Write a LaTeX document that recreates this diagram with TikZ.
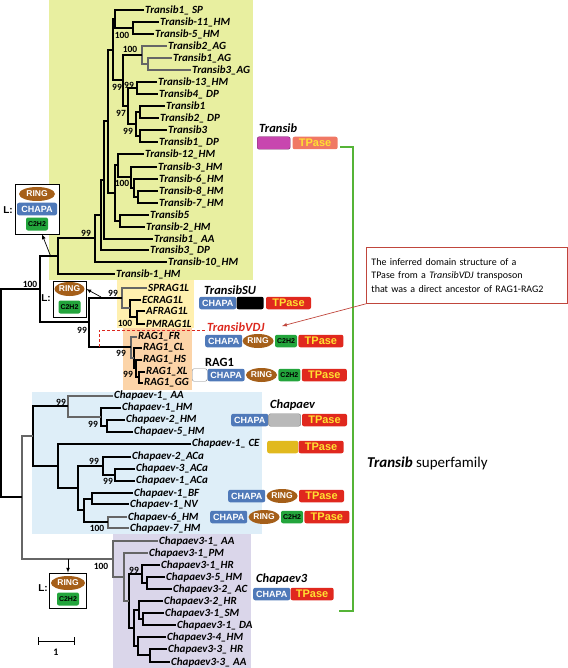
\documentclass[tikz,border=0pt]{standalone}
\usepackage{fontspec}
\setmainfont{Carlito}
\newfontfamily\arialfam{Liberation Sans}
\usetikzlibrary{positioning,shapes.geometric}

\definecolor{transibbg}{RGB}{232,239,160}
\definecolor{suzbg}{RGB}{255,240,175}
\definecolor{ragbg}{RGB}{252,212,168}
\definecolor{chapbg}{RGB}{222,238,248}
\definecolor{chapthreebg}{RGB}{218,214,234}
\definecolor{chapablue}{RGB}{79,121,185}
\definecolor{tpred}{RGB}{224,40,30}
\definecolor{tpyellow}{RGB}{255,224,50}
\definecolor{ringbrown}{RGB}{165,95,25}
\definecolor{zfgreen}{RGB}{35,165,60}
\definecolor{brgreen}{RGB}{85,180,55}
\definecolor{noteedge}{RGB}{192,70,60}
\definecolor{vdjred}{RGB}{220,40,30}
\definecolor{tsalmon}{RGB}{240,120,100}
\definecolor{tmagenta}{RGB}{200,70,175}
\definecolor{ceyellow}{RGB}{225,185,30}

\tikzset{
  leaf/.style={anchor=west, inner sep=1pt, font=\fontsize{11}{12}\selectfont\bfseries\itshape},
  bs/.style={inner sep=0pt, font=\fontsize{9.5}{9.5}\selectfont\bfseries},
  br/.style={line width=1.1pt, black},
  gbr/.style={line width=1.1pt, gray!80!black},
  dom/.style={rectangle, rounded corners=2pt, inner sep=0pt, minimum height=12.5pt, anchor=west,
    font=\arialfam\bfseries\fontsize{9}{9}\selectfont},
  chapa/.style={dom, fill=chapablue, text=white, minimum width=37pt},
  tpase/.style={dom, fill=tpred, text=tpyellow, minimum width=45pt,
    font=\arialfam\bfseries\fontsize{11}{11}\selectfont},
  ringdom/.style={ellipse, fill=ringbrown, text=white, inner sep=0pt, minimum width=31pt,
    minimum height=14pt, anchor=west, font=\arialfam\bfseries\fontsize{8.5}{8.5}\selectfont},
  zf/.style={dom, fill=zfgreen, text=black, minimum width=22pt,
    font=\arialfam\bfseries\fontsize{7}{7}\selectfont},
  famtitle/.style={anchor=west, inner sep=0pt, font=\fontsize{12.5}{12.5}\selectfont\bfseries\itshape},
  lbox/.style={draw=black, fill=white, line width=0.6pt, inner sep=0pt},
  lmark/.style={inner sep=0pt, font=\arialfam\bfseries\fontsize{10}{10}\selectfont},
  larrow/.style={-latex, line width=0.7pt},
  vdjline/.style={vdjred, line width=1pt, dash pattern=on 3pt off 2pt},
  notearrow/.style={-latex, noteedge, line width=0.7pt}
}

% one clade: vertical bar at #2 joining children #3 and #4
\newcommand{\clade}[4][br]{\draw[#1] (#3) -| (#2) |- (#4);}

\begin{document}
\begin{tikzpicture}[x=1pt,y=-1pt]
\useasboundingbox (0,0) rectangle (567,668);

% clade backgrounds
\fill[transibbg] (49,0) rectangle (253,280);
\fill[suzbg] (117,280) rectangle (194,328);
\fill[ragbg] (123,328) rectangle (192,390);
\fill[chapbg] (32,392) rectangle (262,534);
\fill[chapthreebg] (113,534) rectangle (251,668);

% leaves
\node[leaf] (tsp) at (144,10) {Transib1\_ SP};
\node[leaf] (t11hm) at (159,22) {Transib-11\_HM};
\node[leaf] (t5hm) at (154,34) {Transib-5\_HM};
\node[leaf] (t2ag) at (167,46) {Transib2\_AG};
\node[leaf] (t1ag) at (172,58) {Transib1\_AG};
\node[leaf] (t3ag) at (191,70) {Transib3\_AG};
\node[leaf] (t13hm) at (157,82) {Transib-13\_HM};
\node[leaf] (t4dp) at (158,94) {Transib4\_ DP};
\node[leaf] (t1) at (165,106) {Transib1};
\node[leaf] (t2dp) at (159,118) {Transib2\_ DP};
\node[leaf] (t3) at (167,130) {Transib3};
\node[leaf] (t1dp) at (158,142) {Transib1\_ DP};
\node[leaf] (t12hm) at (144,154) {Transib-12\_HM};
\node[leaf] (t3hm) at (157,167) {Transib-3\_HM};
\node[leaf] (t6hm) at (158,179) {Transib-6\_HM};
\node[leaf] (t8hm) at (158,191) {Transib-8\_HM};
\node[leaf] (t7hm) at (158,203) {Transib-7\_HM};
\node[leaf] (t5) at (149,215) {Transib5};
\node[leaf] (t2hm) at (145,227) {Transib-2\_HM};
\node[leaf] (t1aa) at (153,239) {Transib1\_ AA};
\node[leaf] (t3dp) at (149,250) {Transib3\_ DP};
\node[leaf] (t10hm) at (167,262) {Transib-10\_HM};
\node[leaf] (t1hm) at (115,274) {Transib-1\_HM};
\node[leaf] (sprag) at (147,288) {SPRAG1L};
\node[leaf] (ecrag) at (141,300) {ECRAG1L};
\node[leaf] (afrag) at (145,311) {AFRAG1L};
\node[leaf] (pmrag) at (145,324) {PMRAG1L};
\node[leaf] (ragfr) at (137,337) {RAG1\_FR};
\node[leaf] (ragcl) at (142,348) {RAG1\_CL};
\node[leaf] (raghs) at (142,360) {RAG1\_HS};
\node[leaf] (ragxl) at (145,372) {RAG1\_XL};
\node[leaf] (raggg) at (143,383) {RAG1\_GG};
\node[leaf] (c1aa) at (113,396) {Chapaev-1\_ AA};
\node[leaf] (c1hm) at (121,408) {Chapaev-1\_HM};
\node[leaf] (c2hm) at (125,420) {Chapaev-2\_HM};
\node[leaf] (c5hm) at (133,432) {Chapaev-5\_HM};
\node[leaf] (c1ce) at (191,444) {Chapaev-1\_ CE};
\node[leaf] (c2aca) at (131,457) {Chapaev-2\_ACa};
\node[leaf] (c3aca) at (135,469) {Chapaev-3\_ACa};
\node[leaf] (c1aca) at (135,481) {Chapaev-1\_ACa};
\node[leaf] (c1bf) at (133,493) {Chapaev-1\_BF};
\node[leaf] (c1nv) at (129,504) {Chapaev-1\_NV};
\node[leaf] (c6hm) at (127,517) {Chapaev-6\_HM};
\node[leaf] (c7hm) at (129,528) {Chapaev-7\_HM};
\node[leaf] (p1aa) at (158,541) {Chapaev3-1\_ AA};
\node[leaf] (p1pm) at (148,553) {Chapaev3-1\_PM};
\node[leaf] (p1hr) at (160,565) {Chapaev3-1\_HR};
\node[leaf] (p5hm) at (165,577) {Chapaev3-5\_HM};
\node[leaf] (p2ac) at (172,589) {Chapaev3-2\_ AC};
\node[leaf] (p2hr) at (163,601) {Chapaev3-2\_HR};
\node[leaf] (p1sm) at (164,613) {Chapaev3-1\_SM};
\node[leaf] (p1da) at (176,625) {Chapaev3-1\_ DA};
\node[leaf] (p4hm) at (166,637) {Chapaev3-4\_HM};
\node[leaf] (p3hr) at (167,649) {Chapaev3-3\_ HR};
\node[leaf] (p3aa) at (170,662) {Chapaev3-3\_ AA};

% inner nodes of the tree
\coordinate (a1) at (133,28);
\coordinate (a2) at (115,19);
\coordinate (a3) at (148,64);
\coordinate (a4) at (142,55);
\coordinate (a5) at (137,88);
\coordinate (a6) at (140,112);
\coordinate (a7) at (140,136);
\coordinate (a8) at (136,124);
\coordinate (a9) at (128,106);
\coordinate (a10) at (123,80);
\coordinate (a11) at (113,50);
\coordinate (b1) at (138,197);
\coordinate (b2) at (134,188);
\coordinate (b3) at (131,177);
\coordinate (b4) at (118,165);
\coordinate (b5) at (120,221);
\coordinate (b6) at (115,193);
\coordinate (a12) at (108,121);
\coordinate (a13) at (104,180);
\coordinate (a14) at (101,215);
\coordinate (a15) at (95,238);
\coordinate (a16) at (58,256);
\coordinate (c1) at (137,317);
\coordinate (c2) at (130,308);
\coordinate (c3) at (122,298);
\coordinate (r1) at (139,377);
\coordinate (r2) at (136,368);
\coordinate (r3) at (134,358);
\coordinate (r4) at (131,347);
\coordinate (d1) at (89,322);
\coordinate (d2) at (40,289);
\coordinate (e1) at (107,426);
\coordinate (e2) at (101,417);
\coordinate (e3) at (68,406);
\coordinate (e7a) at (115,475);
\coordinate (e7) at (103,466);
\coordinate (e9) at (92,499);
\coordinate (e10) at (108,522);
\coordinate (e8) at (84,510);
\coordinate (e6) at (78,488);
\coordinate (e5) at (58,466);
\coordinate (e4) at (33,436);
\coordinate (g3a) at (147,583);
\coordinate (g3) at (142,574);
\coordinate (g5a) at (143,619);
\coordinate (g5) at (139,610);
\coordinate (g6a) at (150,655);
\coordinate (g6) at (138,646);
\coordinate (g4) at (134,628);
\coordinate (g2b) at (129,601);
\coordinate (g2) at (124,577);
\coordinate (g1) at (113,559);
\coordinate (f) at (22,497);
\coordinate (root) at (1,393);

% branches
\clade{a1}{t11hm.west}{t5hm.west}
\clade{a2}{tsp.west}{a1}
\clade[gbr]{a3}{t1ag.west}{t3ag.west}
\clade[gbr]{a4}{t2ag.west}{a3}
\clade{a5}{t13hm.west}{t4dp.west}
\clade{a6}{t1.west}{t2dp.west}
\clade{a7}{t3.west}{t1dp.west}
\clade{a8}{a6}{a7}
\clade{a9}{a5}{a8}
\clade{a10}{a4}{a9}
\clade{a11}{a2}{a10}
\clade{b1}{t8hm.west}{t7hm.west}
\clade{b2}{t6hm.west}{b1}
\clade{b3}{t3hm.west}{b2}
\clade{b4}{t12hm.west}{b3}
\clade{b5}{t5.west}{t2hm.west}
\clade{b6}{b4}{b5}
\clade{a12}{a11}{b6}
\clade{a13}{a12}{t1aa.west}
\clade{a14}{a13}{t3dp.west}
\clade{a15}{a14}{t10hm.west}
\clade{a16}{a15}{t1hm.west}
\clade{c1}{afrag.west}{pmrag.west}
\clade{c2}{ecrag.west}{c1}
\clade[gbr]{c3}{sprag.west}{c2}
\clade{r1}{ragxl.west}{raggg.west}
\clade{r2}{raghs.west}{r1}
\clade{r3}{ragcl.west}{r2}
\clade[gbr]{r4}{ragfr.west}{r3}
\clade{d1}{c3}{r4}
\clade{d2}{a16}{d1}
\clade{e1}{c2hm.west}{c5hm.west}
\clade{e2}{c1hm.west}{e1}
\clade[gbr]{e3}{c1aa.west}{e2}
\clade{e7a}{c3aca.west}{c1aca.west}
\clade{e7}{c2aca.west}{e7a}
\clade{e9}{c1bf.west}{c1nv.west}
\clade[gbr]{e10}{c6hm.west}{c7hm.west}
\clade{e8}{e9}{e10}
\clade{e6}{e7}{e8}
\clade{e5}{c1ce.west}{e6}
\clade{e4}{e3}{e5}
\clade{g3a}{p5hm.west}{p2ac.west}
\clade{g3}{p1hr.west}{g3a}
\clade{g5a}{p1sm.west}{p1da.west}
\clade{g5}{p2hr.west}{g5a}
\clade{g6a}{p3hr.west}{p3aa.west}
\clade{g6}{p4hm.west}{g6a}
\clade{g4}{g5}{g6}
\clade{g2b}{g3}{g4}
\clade[gbr]{g2}{p1pm.west}{g2b}
\clade[gbr]{g1}{p1aa.west}{g2}
\clade[gbr]{f}{e4}{g1}
\clade{root}{d2}{f}

% bootstrap values
\node[bs] (bs1) at (122,35) {100};
\node[bs] (bs2) at (130,49) {100};
\node[bs] (bs3) at (117,87) {99};
\node[bs] (bs4) at (129,85) {99};
\node[bs] (bs5) at (121,113) {97};
\node[bs] (bs6) at (128,131) {99};
\node[bs] (bs7) at (122,183) {100};
\node[bs] (bs8) at (86,233) {99};
\node[bs] (bs9) at (30,284) {100};
\node[bs] (bs10) at (113,293) {99};
\node[bs] (bs11) at (125,323) {100};
\node[bs] (bs12) at (82,330) {99};
\node[bs] (bs13) at (121,353) {99};
\node[bs] (bs14) at (128,374) {99};
\node[bs] (bs15) at (61,402) {99};
\node[bs] (bs16) at (93,424) {99};
\node[bs] (bs17) at (94,461) {99};
\node[bs] (bs18) at (108,481) {99};
\node[bs] (bs19) at (97,528) {100};
\node[bs] (bs20) at (101,566) {100};
\node[bs] (bs21) at (134,570) {99};

% ancestral domain boxes
\node[lbox, minimum width=44pt, minimum height=50pt] (lbox1) at (37,209) {};
\node[ringdom, anchor=center, minimum width=36pt] (l1ring) at (37,194) {RING};
\node[chapa, anchor=center, minimum width=40pt] (l1chapa) at (37,209) {CHAPA};
\node[zf, anchor=center, minimum height=13pt] (l1zf) at (37,224) {C2H2};
\node[lmark] (l1mark) at (8,210) {L:};
\node[lbox, minimum width=33pt, minimum height=36pt] (lbox2) at (69.5,299) {};
\node[ringdom, anchor=center, minimum width=30pt] (l2ring) at (69.5,289) {RING};
\node[zf, anchor=center, minimum height=13pt] (l2zf) at (69.5,307) {C2H2};
\node[lmark] (l2mark) at (46,298) {L:};
\node[lbox, minimum width=37pt, minimum height=35pt] (lbox3) at (68,590.5) {};
\node[ringdom, anchor=center, minimum width=34pt] (l3ring) at (68,583) {RING};
\node[zf, anchor=center, minimum height=13pt] (l3zf) at (68,599) {C2H2};
\node[lmark] (l3mark) at (43,588) {L:};
\coordinate (l1src) at (51,257);
\coordinate (l2src) at (101,297);
\coordinate (l3src) at (68,559);
\draw[larrow] (l1src) -- ([xshift=5pt]lbox1.south);
\draw[larrow] (l2src) -- ([yshift=10pt]lbox2.east);
\draw[larrow] (l3src) -- (lbox3.north);

% family domain structures
\node[famtitle] (ttitle) at (259,128) {Transib};
\node[dom, fill=tmagenta, draw=tmagenta!60!black, minimum width=33pt] (tmag) at (257,143) {};
\node[tpase, fill=tsalmon, right=2pt of tmag] (ttp) {TPase};

\node[famtitle] (sutitle) at (204,290) {TransibSU};
\node[chapa] (suchapa) at (199,303) {CHAPA};
\node[dom, fill=black, minimum width=27pt, right=0pt of suchapa] (sublk) {};
\node[tpase, right=2pt of sublk] (sutp) {TPase};

\node[famtitle, text=vdjred] (vdj) at (207,327) {TransibVDJ};
\node[chapa] (vchapa) at (205,341) {CHAPA};
\node[ringdom, right=0pt of vchapa] (vring) {RING};
\node[zf, right=1pt of vring] (vzf) {C2H2};
\node[tpase, right=1pt of vzf] (vtp) {TPase};
\coordinate (vdjroot) at (99,347);
\draw[vdjline] (vdjroot) |- ([yshift=-3pt]vdj.west);

\node[famtitle, font=\fontsize{12.5}{12.5}\selectfont\bfseries] (ragtitle) at (205,362) {RAG1};
\node[dom, draw=gray, fill=white, minimum width=15pt] (ragw) at (192,375) {};
\node[chapa, right=0pt of ragw] (ragchapa) {CHAPA};
\node[ringdom, right=1pt of ragchapa] (ragring) {RING};
\node[zf, right=1pt of ragring] (ragzf) {C2H2};
\node[tpase, right=1pt of ragzf] (ragtp) {TPase};

\node[famtitle] (chtitle) at (270,405) {Chapaev};
\node[chapa] (chchapa) at (231,420) {CHAPA};
\node[dom, fill=gray!55, draw=gray, minimum width=32pt, right=0pt of chchapa] (chgrey) {};
\node[tpase, right=1pt of chgrey] (chtp) {TPase};

\node[dom, fill=ceyellow, minimum width=31pt] (ceyel) at (267,447) {};
\node[tpase, right=0pt of ceyel] (cetp) {TPase};

\node[chapa] (bfchapa) at (228,496) {CHAPA};
\node[ringdom, right=1pt of bfchapa] (bfring) {RING};
\node[tpase, right=1pt of bfring] (bftp) {TPase};

\node[chapa] (hmchapa) at (210,517) {CHAPA};
\node[ringdom, right=1pt of hmchapa] (hmring) {RING};
\node[zf, right=1pt of hmring] (hmzf) {C2H2};
\node[tpase, right=1pt of hmzf] (hmtp) {TPase};

\node[famtitle] (c3title) at (256,579) {Chapaev3};
\node[chapa] (c3chapa) at (253,594) {CHAPA};
\node[tpase, minimum width=43pt, right=0pt of c3chapa] (c3tp) {TPase};

% superfamily bracket
\draw[brgreen, line width=1.5pt] (340,147) -- (353,147) -- (353,611) -- (339,611);
\node[anchor=west, inner sep=0pt, font=\fontsize{15}{15}\selectfont] (superfam) at (367,463)
  {\textbf{\textit{Transib}} superfamily};

% note on the ancestor
\node[draw=noteedge, line width=0.8pt, fill=white, anchor=north west, align=left,
  text width=191pt, inner xsep=5pt, minimum height=56pt, font=\fontsize{10}{13.5}\selectfont] (note) at (366,247)
  {The inferred domain structure of a\\TPase from a \textit{TransibVDJ} transposon\\that was a direct ancestor of RAG1-RAG2};
\coordinate (vdjtip) at (282,326);
\draw[notearrow] (note.south west) -- (vdjtip);

% scale bar
\coordinate (sbl) at (38,641);
\coordinate (sbr) at (74,641);
\draw[line width=0.8pt] (sbl) -- (sbr);
\draw[line width=0.8pt] ([yshift=4pt]sbl) -- ([yshift=-4pt]sbl);
\draw[line width=0.8pt] ([yshift=4pt]sbr) -- ([yshift=-4pt]sbr);
\node[inner sep=0pt, font=\fontsize{10}{10}\selectfont\bfseries] (sblabel) at (56,652) {1};
\end{tikzpicture}
\end{document}
